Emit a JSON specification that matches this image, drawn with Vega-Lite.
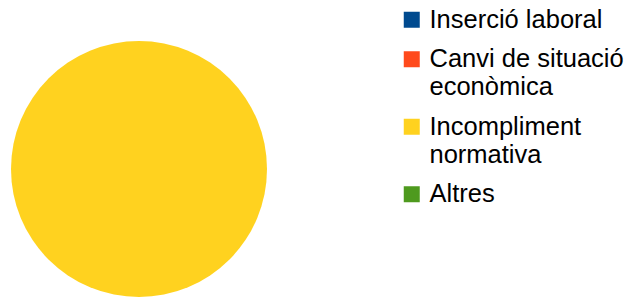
{
  "$schema": "https://vega.github.io/schema/vega-lite/v6.json",
  "width": 256,
  "height": 256,
  "autosize": {"type": "none"},
  "padding": {"left": 11, "top": 41, "right": 363, "bottom": 0},
  "background": "white",
  "data": {"values": [
    {"categoria": "Inserció laboral", "valor": 0, "ordre": 1},
    {"categoria": "Canvi de situació econòmica", "valor": 0, "ordre": 2},
    {"categoria": "Incompliment normativa", "valor": 100, "ordre": 3},
    {"categoria": "Altres", "valor": 0, "ordre": 4}
  ]},
  "mark": {"type": "arc", "stroke": null},
  "encoding": {
    "theta": {"field": "valor", "type": "quantitative", "stack": true},
    "order": {"field": "ordre", "type": "quantitative"},
    "color": {
      "field": "categoria",
      "type": "nominal",
      "sort": ["Inserció laboral", "Canvi de situació econòmica", "Incompliment normativa", "Altres"],
      "scale": {
        "domain": ["Inserció laboral", "Canvi de situació econòmica", "Incompliment normativa", "Altres"],
        "range": ["#004a8f", "#ff4a1c", "#ffd21f", "#4e9a1e"]
      },
      "legend": {
        "title": null,
        "orient": "none",
        "legendX": 388,
        "legendY": -34,
        "symbolType": "square",
        "symbolSize": 256,
        "symbolStrokeWidth": 0,
        "symbolOpacity": 1,
        "labelFont": "Liberation Sans",
        "labelFontSize": 25.5,
        "labelColor": "#000000",
        "labelOffset": 5,
        "labelLimit": 300,
        "rowPadding": 12.5,
        "labelExpr": "datum.label == 'Canvi de situació econòmica' ? ['Canvi de situació', 'econòmica'] : datum.label == 'Incompliment normativa' ? ['Incompliment', 'normativa'] : datum.label"
      }
    }
  },
  "config": {
    "view": {"stroke": null},
    "style": {"guide-label": {"lineHeight": 28}}
  }
}
